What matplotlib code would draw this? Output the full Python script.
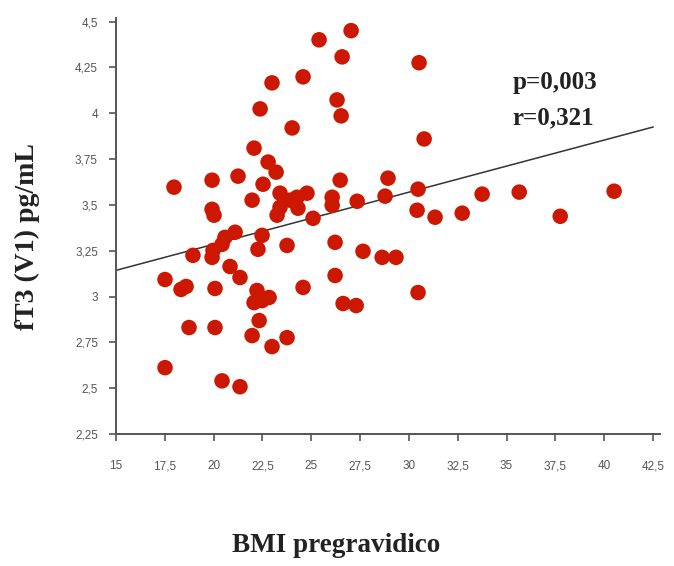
import matplotlib
matplotlib.use("Agg")
import matplotlib.pyplot as plt
from matplotlib.ticker import FixedLocator

# Pre-pregnancy BMI vs fT3 at first visit
bmi = [
    27.04, 25.40, 30.52, 26.58, 24.58, 22.99, 26.32, 22.38, 26.53, 24.02,
    30.78, 22.07, 22.79, 23.20, 22.53, 21.25, 19.92, 17.97, 26.48, 28.93,
    30.47, 33.75, 35.65, 40.51,
    23.40, 23.40, 23.91, 24.27, 24.78, 24.32, 23.25, 26.07, 26.07, 27.35,
    28.78, 25.09, 21.97, 19.92, 20.02, 30.42, 31.34, 32.73, 37.75,
    21.10, 20.58, 20.43, 19.97, 19.92, 18.94, 22.48, 22.27, 23.76, 26.22,
    27.65, 28.63, 29.34, 20.84, 21.35, 26.22, 17.51, 18.33, 18.59, 20.07,
    22.22, 22.07, 22.48, 22.84, 24.58, 26.63, 27.30, 30.47, 18.74, 20.07,
    22.33, 21.97, 22.99, 23.76, 17.51, 20.43, 21.35,
]
ft3 = [
    4.451, 4.401, 4.276, 4.308, 4.199, 4.166, 4.073, 4.024, 3.986, 3.920,
    3.860, 3.810, 3.734, 3.679, 3.613, 3.657, 3.635, 3.597, 3.635, 3.646,
    3.586, 3.559, 3.570, 3.575,
    3.564, 3.487, 3.526, 3.542, 3.564, 3.482, 3.444, 3.542, 3.498, 3.520,
    3.548, 3.427, 3.526, 3.476, 3.444, 3.471, 3.433, 3.455, 3.438,
    3.351, 3.323, 3.285, 3.252, 3.214, 3.225, 3.334, 3.258, 3.279, 3.296,
    3.247, 3.214, 3.214, 3.164, 3.104, 3.115, 3.093, 3.039, 3.055, 3.044,
    3.033, 2.967, 2.978, 2.995, 3.050, 2.962, 2.951, 3.022, 2.831, 2.831,
    2.869, 2.787, 2.727, 2.776, 2.612, 2.540, 2.508,
]

# Linear trend line (endpoints over the x range)
trend_x = [15.0, 42.5]
trend_y = [3.143, 3.925]

x_ticks = [15, 17.5, 20, 22.5, 25, 27.5, 30, 32.5, 35, 37.5, 40, 42.5]
x_tick_labels = ["15", "17,5", "20", "22,5", "25", "27,5", "30", "32,5",
                 "35", "37,5", "40", "42,5"]
y_ticks = [2.25, 2.5, 2.75, 3, 3.25, 3.5, 3.75, 4, 4.25, 4.5]
y_tick_labels = ["2,25", "2,5", "2,75", "3", "3,25", "3,5", "3,75", "4",
                 "4,25", "4,5"]

p_text = "p=0,003"
r_text = "r=0,321"

fig = plt.figure(figsize=(6.74, 5.66), dpi=100)
ax = fig.add_axes([116 / 674, 132 / 566, 544 / 674, 416 / 566])

ax.plot(trend_x, trend_y, color="#333333", linewidth=1.1, zorder=2)
ax.scatter(bmi, ft3, s=125, color="#cc1800", edgecolors="none", zorder=3)

ax.set_xlim(15, 42.86)
ax.set_ylim(2.25, 4.52)

ax.xaxis.set_major_locator(FixedLocator(x_ticks))
ax.yaxis.set_major_locator(FixedLocator(y_ticks))
ax.set_xticklabels(x_tick_labels)
ax.set_yticklabels(y_tick_labels)

for side in ("top", "right"):
    ax.spines[side].set_visible(False)
for side in ("left", "bottom"):
    ax.spines[side].set_color("#555555")
    ax.spines[side].set_linewidth(1.4)

ax.tick_params(axis="both", direction="out", length=5, width=1.2,
               color="#555555", labelcolor="#555555", labelsize=8.5)
ax.tick_params(axis="x", pad=14)
ax.tick_params(axis="y", pad=8)
for lbl in ax.get_xticklabels() + ax.get_yticklabels():
    lbl.set_family("Liberation Sans")

ax.set_xlabel("BMI pregravidico", family="Liberation Serif",
              fontweight="bold", fontsize=19.5, color="#222222")
ax.xaxis.set_label_coords(0.404, -0.238)
ax.set_ylabel("fT3 (V1) pg/mL", family="Liberation Serif",
              fontweight="bold", fontsize=20, color="#222222")
ax.yaxis.set_label_coords(-0.140, 0.474)

ax.text(35.3, 4.166, p_text, family="Liberation Serif",
        fontweight="bold", fontsize=18, color="#222222",
        va="center", ha="left")
ax.text(35.3, 3.975, r_text, family="Liberation Serif",
        fontweight="bold", fontsize=18, color="#222222",
        va="center", ha="left")

fig.savefig("out.png", dpi=100)
